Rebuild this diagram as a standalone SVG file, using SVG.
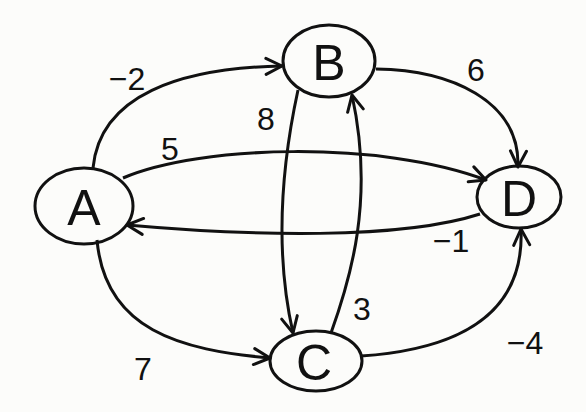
<svg xmlns="http://www.w3.org/2000/svg" width="586" height="412" viewBox="0 0 586 412">
<defs>
<marker id="arr" viewBox="0 0 20 20" refX="18" refY="10" markerWidth="20" markerHeight="20" markerUnits="userSpaceOnUse" orient="auto">
<path d="M2,2 L18,10 L2,18" fill="none" stroke="#111" stroke-width="3" stroke-linecap="round" stroke-linejoin="round"/>
</marker>
<style>
.node ellipse{fill:none;stroke:#111;stroke-width:3}
.node text{font-family:"Liberation Sans",sans-serif;font-size:50px;fill:#111;text-anchor:middle}
.edge{fill:none;stroke:#111;stroke-width:3;marker-end:url(#arr)}
.lbl{font-family:"Liberation Sans",sans-serif;font-size:32px;fill:#111;text-anchor:middle}
</style>
</defs>
<rect width="586" height="412" fill="#fcfcfa"/>
<g id="connectors">
<path class="edge" d="M93,168 C100,95 180,68 282,66"/>
<path class="edge" d="M123,178 C200,145 380,140 486,180"/>
<path class="edge" d="M376,69 C450,70 520,100 518,167"/>
<path class="edge" d="M480,214 C400,240 250,236 127,225"/>
<path class="edge" d="M298,90 C285,150 272,240 293,333"/>
<path class="edge" d="M331,333 C350,280 375,200 352,95"/>
<path class="edge" d="M97,240 C105,330 180,350 270,358"/>
<path class="edge" d="M361,356 C450,350 525,320 521,229"/>
<text class="lbl" x="127" y="90">−2</text>
<text class="lbl" x="266" y="130">8</text>
<text class="lbl" x="170" y="160">5</text>
<text class="lbl" x="476" y="81">6</text>
<text class="lbl" x="451" y="252">−1</text>
<text class="lbl" x="362" y="320">3</text>
<text class="lbl" x="525" y="354">−4</text>
<text class="lbl" x="143" y="380">7</text>
</g>
<g id="A" class="node"><ellipse cx="84" cy="206" rx="49" ry="38"/><text x="84" y="225">A</text></g>
<g id="B" class="node"><ellipse cx="329" cy="61" rx="46" ry="36"/><text x="329" y="80">B</text></g>
<g id="C" class="node"><ellipse cx="316" cy="361" rx="46" ry="30"/><text x="314" y="380">C</text></g>
<g id="D" class="node"><ellipse cx="519" cy="197" rx="42" ry="31"/><text x="519" y="216">D</text></g>
</svg>
